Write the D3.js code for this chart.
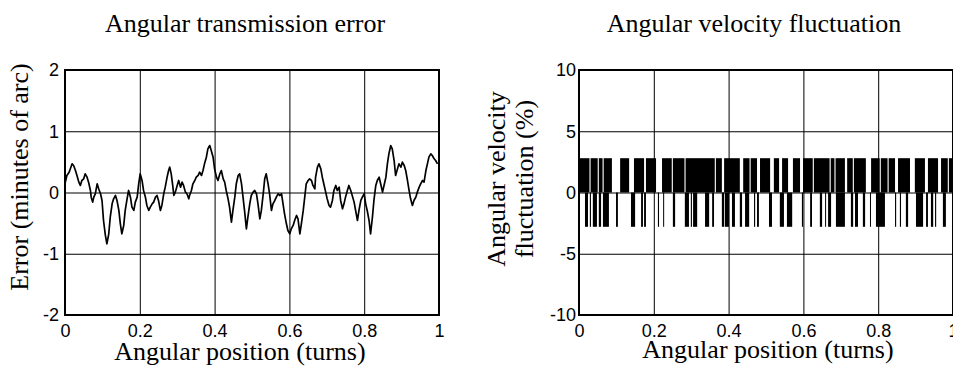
<!DOCTYPE html>
<html>
<head>
<meta charset="utf-8">
<script src="https://cdn.jsdelivr.net/npm/d3@7"></script>
<style>
  body { margin: 0; background: #fff; }
  .tick text { font-family: "Liberation Sans", Arial, sans-serif; font-size: 18px; fill: #000; }
  .label { font-family: "Liberation Serif", "Times New Roman", serif; font-size: 26px; fill: #000; }
</style>
</head>
<body>
<script>
// transmission error trace (turns, minutes of arc)
const teX = [0.001,0.005,0.011,0.019,0.023,0.028,0.032,0.037,0.041,0.045,0.050,0.054,0.059,0.063,0.068,0.070,0.074,0.077,0.081,0.086,0.090,0.095,0.099,0.103,0.108,0.112,0.117,0.121,0.126,0.130,0.135,0.139,0.144,0.148,0.152,0.157,0.161,0.166,0.170,0.175,0.179,0.184,0.188,0.193,0.197,0.201,0.206,0.210,0.215,0.219,0.224,0.228,0.233,0.237,0.242,0.246,0.250,0.255,0.259,0.264,0.268,0.273,0.277,0.280,0.284,0.288,0.291,0.295,0.300,0.304,0.309,0.313,0.317,0.322,0.326,
  0.331,0.333,0.338,0.342,0.347,0.351,0.356,0.360,0.365,0.369,0.373,0.378,0.382,0.387,0.391,0.396,0.400,0.405,0.409,0.414,0.418,0.423,0.427,0.431,0.436,0.440,0.445,0.449,0.454,0.458,0.463,0.467,0.472,0.476,0.480,0.485,0.489,0.494,0.498,0.503,0.507,0.512,0.516,0.521,0.525,0.530,0.534,0.538,0.543,0.547,0.552,0.556,0.561,0.565,0.570,0.574,0.579,0.583,0.587,0.592,0.596,0.601,0.605,0.610,0.614,0.619,0.623,0.628,0.632,0.637,0.641,0.645,0.650,0.654,0.659,0.663,
  0.668,0.670,0.675,0.679,0.684,0.688,0.693,0.697,0.701,0.706,0.710,0.715,0.719,0.724,0.728,0.733,0.737,0.742,0.746,0.750,0.755,0.759,0.764,0.768,0.773,0.777,0.782,0.786,0.791,0.795,0.800,0.804,0.808,0.813,0.817,0.822,0.826,0.831,0.835,0.840,0.844,0.849,0.853,0.858,0.862,0.866,0.871,0.875,0.880,0.884,0.889,0.893,0.898,0.902,0.907,0.911,0.915,0.920,0.924,0.929,0.933,0.938,0.942,0.947,0.951,0.956,0.960,0.965,0.969,0.973,0.978,0.982,0.987,0.991,0.996];
const teY = [0.169,0.278,0.332,0.468,0.441,0.359,0.278,0.169,0.115,0.196,0.223,0.305,0.250,0.169,0.033,-0.076,-0.157,-0.076,-0.021,0.142,0.060,-0.021,-0.130,-0.457,-0.701,-0.837,-0.674,-0.402,-0.185,-0.103,-0.049,-0.130,-0.293,-0.511,-0.674,-0.538,-0.293,-0.103,0.033,-0.076,-0.239,-0.293,-0.157,-0.076,0.142,0.305,0.196,0.033,-0.076,-0.212,-0.293,-0.239,-0.185,-0.157,-0.076,-0.049,-0.130,-0.293,-0.212,-0.021,0.087,0.250,0.359,0.414,0.305,0.115,-0.049,0.006,0.115,0.196,0.087,0.169,0.115,0.006,-0.021,
  -0.103,-0.049,0.033,0.142,0.196,0.250,0.278,0.332,0.278,0.359,0.468,0.577,0.713,0.767,0.685,0.577,0.386,0.250,0.196,0.305,0.359,0.223,0.169,0.033,-0.103,-0.239,-0.484,-0.293,-0.076,0.142,0.278,0.305,0.142,-0.076,-0.293,-0.593,-0.402,-0.185,-0.049,0.006,0.033,-0.021,-0.185,-0.429,-0.293,-0.021,0.223,0.305,0.142,-0.021,-0.293,-0.185,-0.130,-0.076,-0.021,-0.049,-0.021,-0.185,-0.348,-0.511,-0.620,-0.674,-0.593,-0.538,-0.457,-0.375,-0.429,-0.674,-0.511,-0.293,-0.076,0.142,0.196,0.223,0.196,0.115,
  0.060,0.250,0.414,0.468,0.386,0.250,0.115,0.006,-0.103,-0.212,-0.239,-0.130,0.033,0.115,0.033,0.087,-0.130,-0.266,-0.185,-0.076,0.033,0.115,0.033,-0.049,-0.157,-0.293,-0.457,-0.293,-0.130,-0.076,-0.021,-0.185,-0.293,-0.457,-0.674,-0.402,-0.130,0.115,0.196,0.250,0.142,0.006,0.115,0.250,0.468,0.631,0.767,0.713,0.522,0.278,0.386,0.468,0.414,0.495,0.441,0.359,0.223,0.033,-0.103,-0.212,-0.130,-0.076,0.006,0.087,0.142,0.196,0.169,0.359,0.468,0.577,0.631,0.604,0.550,0.522,0.468];

// velocity fluctuation: the signal jumps between 0 and +/- velStep
const velStep = 2.8;
// white gaps in the dense positive band [from, to]
const upperGaps = [[0.028,0.031],[0.050,0.053],[0.063,0.066],[0.088,0.110],[0.134,0.147],[0.174,0.179],[0.206,0.222],[0.248,0.251],[0.282,0.285],[0.363,0.366],[0.382,0.388],[0.430,0.439],[0.456,0.459],[0.476,0.484],[0.511,0.521],[0.535,0.543],[0.559,0.572],[0.591,0.599],[0.625,0.628],[0.670,0.673],[0.683,0.686],[0.711,0.717],[0.732,0.735],[0.767,0.781],[0.804,0.807],[0.825,0.828],[0.845,0.853],[0.885,0.898],[0.925,0.933],[0.960,0.968],[0.986,0.989]];
// negative excursions [from, to]
const lowerBars = [[0.016,0.024],[0.029,0.032],[0.037,0.048],[0.053,0.059],[0.064,0.080],[0.099,0.104],[0.139,0.150],[0.166,0.171],[0.174,0.179],[0.211,0.214],[0.225,0.227],[0.251,0.257],[0.283,0.294],[0.299,0.302],[0.305,0.316],[0.337,0.348],[0.356,0.361],[0.382,0.388],[0.390,0.401],[0.409,0.417],[0.430,0.436],[0.444,0.455],[0.468,0.471],[0.476,0.481],[0.508,0.516],[0.537,0.548],[0.556,0.570],[0.596,0.599],[0.618,0.623],[0.644,0.650],[0.658,0.660],[0.666,0.674],[0.687,0.711],[0.727,0.733],[0.738,0.746],[0.759,0.765],[0.778,0.780],[0.794,0.818],[0.845,0.848],[0.858,0.861],[0.874,0.880],[0.901,0.920],[0.928,0.933],[0.941,0.947],[0.952,0.955],[0.973,0.981]];

const xTicks = [0, 0.2, 0.4, 0.6, 0.8, 1];
const errTicks = [-2, -1, 0, 1, 2];
const velTicks = [-10, -5, 0, 5, 10];

const svg = d3.select('body').append('svg')
  .attr('width', 953)
  .attr('height', 367);

const plotTop = 70, plotBottom = 315, plotW = 374;

function panel(left, yDomain, yTicks, pad) {
  const x = d3.scaleLinear().domain([0, 1]).range([0, plotW]);
  const y = d3.scaleLinear().domain(yDomain).range([plotBottom - plotTop, 0]);
  const g = svg.append('g').attr('transform', `translate(${left},${plotTop})`);
  const h = plotBottom - plotTop;

  // grid lines come from the axis ticks
  const gx = g.append('g')
    .attr('transform', `translate(0,${h})`)
    .call(d3.axisBottom(x).tickValues(xTicks).tickSize(-h).tickPadding(9).tickFormat(d3.format('~g')));
  const gy = g.append('g')
    .call(d3.axisLeft(y).tickValues(yTicks).tickSize(-plotW).tickPadding(pad).tickFormat(d => String(d)));
  [gx, gy].forEach(a => {
    a.select('.domain').remove();
    a.selectAll('.tick line').attr('stroke', '#000').attr('stroke-width', 1);
  });
  return { g, x, y, h };
}

// left: angular transmission error
const p1 = panel(65, [-2, 2], errTicks, 6);
const line = d3.line()
  .x((d, i) => p1.x(teX[i]))
  .y(d => p1.y(d));
p1.g.append('path')
  .datum(teY)
  .attr('fill', 'none')
  .attr('stroke', '#000')
  .attr('stroke-width', 1.7)
  .attr('stroke-linejoin', 'round')
  .attr('d', line);

// right: angular velocity fluctuation
const p2 = panel(579, [-10, 10], velTicks, 3);
const upperBars = [];
let start = 0;
upperGaps.forEach(([a, b]) => {
  if (a > start) upperBars.push([start, a]);
  start = b;
});
if (start < 1) upperBars.push([start, 1]);

p2.g.append('g').selectAll('rect.up')
  .data(upperBars)
  .enter().append('rect')
  .attr('x', d => p2.x(d[0]))
  .attr('width', d => Math.max(1, p2.x(d[1]) - p2.x(d[0])))
  .attr('y', p2.y(velStep))
  .attr('height', p2.y(0) - p2.y(velStep))
  .attr('fill', '#000');

p2.g.append('g').selectAll('rect.down')
  .data(lowerBars)
  .enter().append('rect')
  .attr('x', d => p2.x(d[0]))
  .attr('width', d => Math.max(1, p2.x(d[1]) - p2.x(d[0])))
  .attr('y', p2.y(0))
  .attr('height', p2.y(-velStep) - p2.y(0))
  .attr('fill', '#000');

// axes boxes
[p1, p2].forEach(p => {
  p.g.append('rect')
    .attr('width', plotW)
    .attr('height', p.h)
    .attr('fill', 'none')
    .attr('stroke', '#000')
    .attr('stroke-width', 2);
});

// titles and axis labels
svg.append('text').attr('class', 'label').attr('x', 245).attr('y', 32).attr('text-anchor', 'middle').text('Angular transmission error');
svg.append('text').attr('class', 'label').attr('x', 754).attr('y', 32).attr('text-anchor', 'middle').text('Angular velocity fluctuation');
svg.append('text').attr('class', 'label').attr('x', 240).attr('y', 360).attr('text-anchor', 'middle').text('Angular position (turns)');
svg.append('text').attr('class', 'label').attr('x', 768).attr('y', 358).attr('text-anchor', 'middle').text('Angular position (turns)');

svg.append('text').attr('class', 'label')
  .attr('transform', 'translate(28,177) rotate(-90)')
  .attr('text-anchor', 'middle')
  .text('Error (minutes of arc)');
svg.append('text').attr('class', 'label')
  .attr('transform', 'translate(505,179) rotate(-90)')
  .attr('text-anchor', 'middle')
  .text('Angular velocity');
svg.append('text').attr('class', 'label')
  .attr('transform', 'translate(533,179) rotate(-90)')
  .attr('text-anchor', 'middle')
  .text('fluctuation (%)');
</script>
</body>
</html>
